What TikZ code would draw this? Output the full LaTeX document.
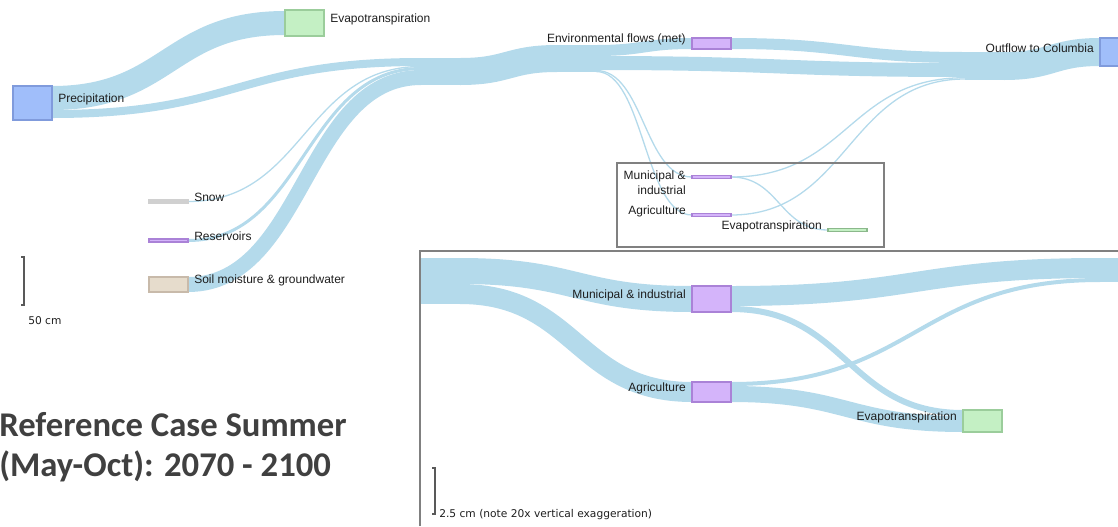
\documentclass[tikz,border=0pt]{standalone}
\usepackage{fontspec}
\setmainfont{Liberation Sans}
\newfontfamily\titlefont{Carlito}
\newfontfamily\barfont{DejaVu Sans}
\usetikzlibrary{positioning,calc}

\definecolor{flowc}{RGB}{180,218,235}
\definecolor{precf}{RGB}{160,190,250}
\definecolor{precd}{RGB}{128,155,220}
\definecolor{etf}{RGB}{196,240,196}
\definecolor{etd}{RGB}{155,205,155}
\definecolor{purf}{RGB}{212,180,250}
\definecolor{purd}{RGB}{170,130,215}
\definecolor{soilf}{RGB}{230,220,204}
\definecolor{soild}{RGB}{200,186,170}
\definecolor{snowc}{RGB}{208,208,208}
\definecolor{txt}{RGB}{30,30,30}
\definecolor{ttlc}{RGB}{64,64,64}

\pgfdeclarelayer{links}
\pgfsetlayers{links,main}

% one sankey band: width (px), start, end
\newcommand{\flow}[3]{%
  \draw[link, line width=#1*0.75pt] let \p1=(#2), \p2=(#3), \n1={0.5*(\x1+\x2)} in
    (\p1) .. controls ({\n1*1pt},\y1) and ({\n1*1pt},\y2) .. (\p2);}

\begin{document}
\begin{tikzpicture}[
    x=0.75pt, y=-0.75pt,
    link/.style = {draw=flowc, line cap=butt},
    box/.style  = {rectangle, draw, line width=1.1pt, minimum width=29.25pt, inner sep=0pt, outer sep=0pt},
    hid/.style  = {rectangle, fill=flowc, minimum width=29.25pt, inner sep=0pt, outer sep=0pt},
    ht/.style   = {minimum height=#1*0.75pt},
    lbl/.style  = {font=\fontsize{9}{11.25}\selectfont, text=txt, inner sep=0pt, yshift=3pt},
    frm/.style  = {draw=gray, line width=0.8pt},
    bar/.style  = {draw=black!65, line width=1.1pt},
    sclbl/.style = {font=\barfont\fontsize{8}{9.6}\selectfont, text=txt, inner sep=0pt},
    ttl/.style  = {font=\titlefont\bfseries\fontsize{26}{30}\selectfont, text=ttlc, inner sep=0pt}]
  \useasboundingbox (0,0) rectangle (1118,526);

  % main diagram
  \node[box, fill=precf, draw=precd, ht=34] (prec) at (32.5,103)   {};
  \node[box, fill=etf,   draw=etd,   ht=26] (et1)  at (304.5,23)   {};
  \node[box, fill=snowc, draw=snowc, ht=3]  (snow) at (168.5,201.5) {};
  \node[box, fill=purf,  draw=purd,  ht=3]  (res)  at (168.5,240.5) {};
  \node[box, fill=soilf, draw=soild, ht=15] (soil) at (168.5,284.5) {};
  \node[hid, ht=27] (h1) at (440.5,71.5) {};
  \node[hid, ht=27] (h2) at (576.5,58.5) {};
  \node[box, fill=purf,  draw=purd,  ht=11] (env)  at (711.5,43.5)  {};
  \node[hid, ht=28] (h3) at (984.5,66) {};
  \node[box, fill=precf, draw=precd, ht=28] (out)  at (1119.5,52)   {};
  \node[box, fill=purf,  draw=purd,  ht=3]  (mi1)  at (711.5,177)   {};
  \node[box, fill=purf,  draw=purd,  ht=3]  (ag1)  at (711.5,215)   {};
  \node[box, fill=etf,   draw=etd!90!black, ht=3] (et2) at (847.5,230) {};

  % inset, 20x vertical
  \node[hid, ht=46, minimum width=30pt] (h4) at (440,281) {};
  \node[box, fill=purf,  draw=purd,  ht=26] (mi2)  at (711.5,299)   {};
  \node[box, fill=purf,  draw=purd,  ht=20] (ag2)  at (711.5,392)   {};
  \node[box, fill=etf,   draw=etd,   ht=22] (et3)  at (982.5,421)   {};
  \node[hid, ht=24] (h5) at (1119.5,270) {};

  \begin{pgfonlayer}{links}
    \flow{24}{$(prec.north east)+(0,12)$}{$(et1.north west)+(0,13)$}
    \flow{8}{$(prec.north east)+(0,28)$}{$(h1.north west)+(0,4)$}
    \flow{1.3}{$(snow.north east)+(0,1.5)$}{$(h1.north west)+(0,8.5)$}
    \flow{3}{$(res.north east)+(0,1.5)$}{$(h1.north west)+(0,10.5)$}
    \flow{15}{$(soil.north east)+(0,7.5)$}{$(h1.north west)+(0,19.5)$}
    \flow{27}{$(h1.north east)+(0,13.5)$}{$(h2.north west)+(0,13.5)$}
    \flow{11}{$(h2.north east)+(0,5.5)$}{$(env.north west)+(0,5.5)$}
    \flow{14}{$(h2.north east)+(0,18)$}{$(h3.north west)+(0,18)$}
    \flow{1.3}{$(h2.north east)+(0,25.5)$}{mi1.west}
    \flow{1.3}{$(h2.north east)+(0,26.5)$}{ag1.west}
    \flow{11}{$(env.north east)+(0,5.5)$}{$(h3.north west)+(0,5.5)$}
    \flow{28}{$(h3.north east)+(0,14)$}{$(out.north west)+(0,14)$}
    \flow{1.3}{mi1.east}{$(h3.north west)+(0,25.7)$}
    \flow{1.3}{ag1.east}{$(h3.north west)+(0,27)$}
    \flow{1.3}{mi1.east}{et2.west}
    % inset bands
    \flow{26}{$(h4.north east)+(0,13)$}{$(mi2.north west)+(0,13)$}
    \flow{20}{$(h4.north east)+(0,36)$}{$(ag2.north west)+(0,10)$}
    \flow{20}{$(mi2.north east)+(0,10)$}{$(h5.north west)+(0,10)$}
    \flow{16}{$(ag2.north east)+(0,12)$}{$(et3.north west)+(0,14)$}
    \flow{6}{$(mi2.north east)+(0,23)$}{$(et3.north west)+(0,3)$}
    \flow{4}{$(ag2.north east)+(0,2)$}{$(h5.north west)+(0,22)$}
  \end{pgfonlayer}

  \node[lbl, right=4.5pt of prec] (prec-l) {Precipitation};
  \node[lbl, right=4.5pt of et1]  (et1-l)  {Evapotranspiration};
  \node[lbl, right=4.5pt of snow] (snow-l) {Snow};
  \node[lbl, right=4.5pt of res]  (res-l)  {Reservoirs};
  \node[lbl, right=4.5pt of soil] (soil-l) {Soil moisture \& groundwater};
  \node[lbl, left=4.5pt of env]   (env-l)  {Environmental flows (met)};
  \node[lbl, left=4.5pt of out]   (out-l)  {Outflow to Columbia};
  \node[lbl, left=4.5pt of mi1, anchor=north east, align=right, yshift=1.5pt] (mi1-l) {Municipal \&\\industrial};
  \node[lbl, left=4.5pt of ag1]   (ag1-l)  {Agriculture};
  \node[lbl, left=4.5pt of et2]   (et2-l)  {Evapotranspiration};
  \node[lbl, left=4.5pt of mi2]   (mi2-l)  {Municipal \& industrial};
  \node[lbl, left=4.5pt of ag2]   (ag2-l)  {Agriculture};
  \node[lbl, left=4.5pt of et3]   (et3-l)  {Evapotranspiration};

  % frames
  \draw[frm] (617,163) rectangle (884,247);
  \draw[frm] (420,526) -- (420,251) -- (1118,251);

  % scale bars
  \draw[bar] (21,257) -- (24,257) -- (24,305) -- (21,305);
  \node[sclbl, anchor=west] (sc1) at (28,321) {50 cm};
  \draw[bar] (432,468) -- (435,468) -- (435,514) -- (432,514);
  \node[sclbl, anchor=west] (sc2) at (439,515) {2.5 cm (note 20x vertical exaggeration)};

  \node[ttl, anchor=base west] (ttl1) at (-1,436) {Reference Case Summer};
  \node[ttl, anchor=base west] (ttl2) at (-1,476) {(May-Oct): 2070 - 2100};
\end{tikzpicture}
\end{document}
